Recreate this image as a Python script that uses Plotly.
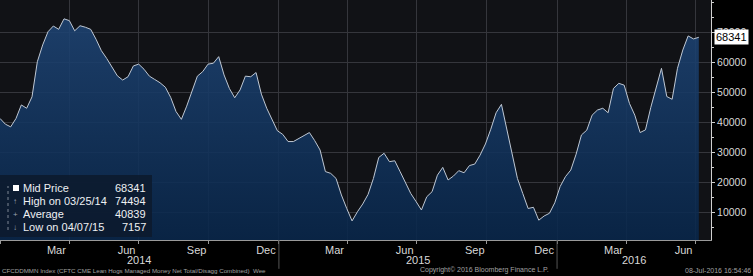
import pandas as pd
import numpy as np
import plotly.graph_objects as go

# ---- data (weekly, CFTC report Tuesdays) ----
start_date = "2013-12-31"
values = [
    41300, 39400, 38500, 41300, 45800, 44700, 48500, 60200, 65800, 70200,
    72100, 71000, 74494, 73900, 70500, 72200, 71700, 71000, 67700, 63900,
    61300, 58500, 55500, 54100, 55200, 58800, 59400, 57700, 55400, 54300,
    53200, 51700, 48300, 43600, 41000, 45400, 50800, 55400, 56900, 59400,
    59700, 61900, 55800, 51300, 48200, 50800, 55400, 55200, 56600, 49400,
    44700, 41000, 37200, 36000, 33600, 33600, 34600, 35400, 36600, 33900,
    30800, 23600, 23000, 21300, 15800, 11300, 7157, 10200, 12800, 16000,
    21300, 28300, 29700, 26900, 27200, 23600, 19700, 16300, 13600, 10800,
    15200, 16900, 22400, 25000, 20800, 22100, 23900, 23200, 25600, 26100,
    29100, 32800, 37700, 43200, 46000, 38000, 30200, 21300, 16300, 11300,
    11700, 7400, 8800, 9700, 13200, 18600, 21900, 24100, 29400, 35800,
    37400, 42400, 44100, 44700, 43200, 51300, 53000, 52400, 46300, 42400,
    36600, 37500, 45000, 51700, 58000, 48600, 47700, 58000, 64100, 68800,
    67800, 68341,
]
dates = pd.date_range(start_date, periods=len(values), freq="7D")

average_label = 40839  # as stated by the source terminal
y_tick_vals = [10000, 20000, 30000, 40000, 50000, 60000, 70000]
y_tick_text = ["10000", "20000", "30000", "40000", "50000", "60000", "70000"]
month_labels = ["Mar", "Jun", "Sep", "Dec"]
month_nums = [3, 6, 9, 12]
years = [2014, 2015, 2016]

title_text = "CFCDDMMN Index (CFTC CME Lean Hogs Managed Money Net Total/Disagg Combined)  Wee"
copyright_text = "Copyright\u00a9 2016 Bloomberg Finance L.P."
stamp_text = "08-Jul-2016 16:54:46"

# ---- derived stats ----
s = pd.Series(values, index=dates)
last_val = s.iloc[-1]
hi_date, hi_val = s.idxmax(), s.max()
lo_date, lo_val = s.idxmin(), s.min()

x_start = pd.Timestamp("2013-12-31")
x_end = pd.Timestamp("2016-07-21")

FONT = "Liberation Sans, Arial, sans-serif"
GRID = "#35363c"

fig = go.Figure()
fig.add_trace(go.Scatter(
    x=dates, y=values, mode="lines",
    line=dict(color="#bfc8d4", width=1),
    fill="tozeroy",
    fillgradient=dict(type="vertical", start=0, stop=75000,
                      colorscale=[[0, "rgba(8,38,74,0.88)"], [1, "rgba(30,68,116,0.88)"]]),
    hoverinfo="skip", showlegend=False,
))

# x ticks: month labels mid-month, quarter gridlines at quarter starts
tickvals, ticktext = [], []
for y in range(2014, 2017):
    for m, lab in zip(month_nums, month_labels):
        d = pd.Timestamp(year=y, month=m, day=15)
        if x_start <= d <= x_end:
            tickvals.append(d)
            ticktext.append(lab)
qvals = [d for d in pd.date_range("2014-01-01", "2016-07-01", freq="QS") if x_start < d < x_end]

fig.update_layout(
    width=753, height=276,
    margin=dict(l=0, r=42, t=0, b=36),
    paper_bgcolor="#000000",
    plot_bgcolor="#111216",
    font=dict(family=FONT, color="#d6d6d6", size=11),
    xaxis=dict(
        range=[x_start, x_end],
        tickmode="array", tickvals=tickvals, ticktext=ticktext,
        ticks="", showgrid=False,
        tickfont=dict(size=11, color="#d8d8d8"),
        showline=True, linecolor="#9a9a9a", linewidth=1,
        minor=dict(tickmode="array", tickvals=qvals, showgrid=True,
                   gridcolor=GRID, gridwidth=1, ticks="outside",
                   ticklen=3, tickcolor="#9a9a9a"),
        zeroline=False,
    ),
    yaxis=dict(
        side="right", range=[800, 80770],
        tickmode="array", tickvals=y_tick_vals, ticktext=y_tick_text,
        ticks="outside", ticklen=3, tickcolor="#d0d0d0",
        tickfont=dict(size=10.5, color="#d8d8d8"),
        showgrid=True, gridcolor=GRID, gridwidth=1,
        showline=True, linecolor="#d0d0d0", linewidth=1,
        minor=dict(dtick=5000, ticks="outside", ticklen=2, tickcolor="#d0d0d0", showgrid=False),
        zeroline=False,
    ),
)

shapes = []
annotations = []

# year separators below the axis + year labels
for y in years:
    y0 = max(pd.Timestamp(year=y, month=1, day=1), x_start)
    y1 = min(pd.Timestamp(year=y, month=12, day=31), x_end)
    mid = y0 + (y1 - y0) / 2
    annotations.append(dict(x=mid, y=-0.083, xref="x", yref="paper", text=str(y),
                            showarrow=False, yanchor="middle",
                            font=dict(size=11, color="#d8d8d8")))
    if y > years[0]:
        shapes.append(dict(type="line", xref="x", yref="paper",
                           x0=pd.Timestamp(year=y, month=1, day=1), x1=pd.Timestamp(year=y, month=1, day=1),
                           y0=0, y1=-0.12, line=dict(color="#555", width=1)))

# legend box
shapes.append(dict(type="rect", xref="paper", yref="paper", x0=0, x1=152 / 711,
                   y0=(240 - 237) / 240, y1=(240 - 175) / 240,
                   fillcolor="rgba(12,26,46,0.88)", line=dict(width=0), layer="above"))
# tree line and icon
shapes.append(dict(type="line", xref="paper", yref="paper", x0=8 / 711, x1=8 / 711,
                   y0=(240 - 230) / 240, y1=(240 - 186) / 240,
                   line=dict(color="#7d8694", width=1, dash="dot"), layer="above"))
shapes.append(dict(type="rect", xref="paper", yref="paper", x0=13 / 711, x1=19 / 711,
                   y0=(240 - 191) / 240, y1=(240 - 185) / 240,
                   fillcolor="#ffffff", line=dict(width=0), layer="above"))

rows = [
    ("", "Mid Price", f"{last_val:.0f}"),
    ("\u2191", f"High on {hi_date:%m/%d/%y}", f"{hi_val:.0f}"),
    ("+", "Average", f"{average_label}"),
    ("\u2193", f"Low on {lo_date:%m/%d/%y}", f"{lo_val:.0f}"),
]
for k, (sym, lab, val) in enumerate(rows):
    ypx = 188 + 13 * k
    yp = (240 - ypx) / 240
    if sym:
        annotations.append(dict(x=15 / 711, y=yp, xref="paper", yref="paper", text=sym,
                                showarrow=False, xanchor="center", yanchor="middle",
                                font=dict(size=8, color="#9aa3b0")))
    annotations.append(dict(x=21 / 711, y=yp, xref="paper", yref="paper", text=lab,
                            showarrow=False, xanchor="left", yanchor="middle",
                            font=dict(size=11, color="#eef0f3")))
    annotations.append(dict(x=148 / 711, y=yp, xref="paper", yref="paper", text=val,
                            showarrow=False, xanchor="right", yanchor="middle",
                            font=dict(size=11, color="#eef0f3")))

# last value tag on right axis
annotations.append(dict(x=1, y=last_val, xref="paper", yref="y", text=f"{last_val:.0f}",
                        showarrow=False, xanchor="left", yanchor="middle", xshift=3,
                        bgcolor="#ffffff", borderpad=1,
                        font=dict(size=11, color="#000000")))

# footer texts
annotations.append(dict(x=0, y=-0.125, xref="paper", yref="paper", text=title_text,
                        showarrow=False, xanchor="left", yanchor="middle",
                        font=dict(size=6.2, color="#a0a0a0")))
annotations.append(dict(x=484 / 711, y=-0.125, xref="paper", yref="paper", text=copyright_text,
                        showarrow=False, xanchor="center", yanchor="middle",
                        font=dict(size=7, color="#a0a0a0")))
annotations.append(dict(x=1, y=-0.125, xref="paper", yref="paper", text=stamp_text,
                        showarrow=False, xanchor="right", yanchor="middle", xshift=42,
                        font=dict(size=7, color="#a0a0a0")))

fig.update_layout(shapes=shapes, annotations=annotations)
fig.write_html("out.html")
